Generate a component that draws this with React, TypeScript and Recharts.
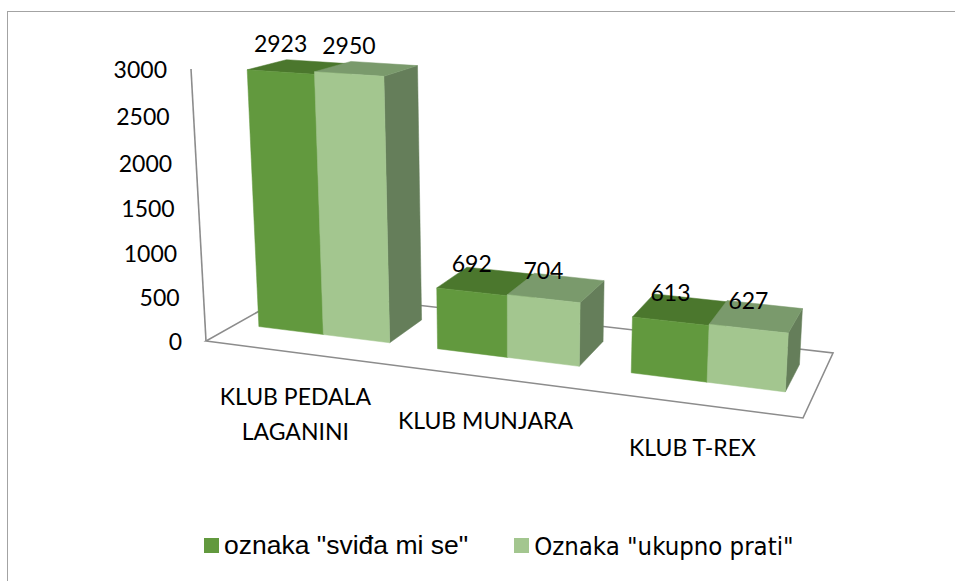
import React from "react";
import { BarChart, Bar, XAxis, YAxis, LabelList, Customized } from "recharts";

const categories = ["KLUB PEDALA LAGANINI", "KLUB MUNJARA", "KLUB T-REX"];
const svidaMiSe = [2923, 692, 613];
const ukupnoPrati = [2950, 704, 627];
const yTicks = [0, 500, 1000, 1500, 2000, 2500, 3000];
const seriesNames = ['oznaka "sviđa mi se"', 'Oznaka "ukupno prati"'];

const data = categories.map((name, i) => ({
  name,
  svida: svidaMiSe[i],
  prati: ukupnoPrati[i],
}));

const W = 955;
const H = 581;
const MARGIN = { top: 100, right: 255, bottom: 151, left: 40 };
const Y_AXIS_W = 60;
const X_AXIS_H = 30;
// flat plot area that recharts lays out, we project it afterwards
const PL = MARGIN.left + Y_AXIS_W;
const PT = MARGIN.top;
const PW = W - PL - MARGIN.right;
const PH = H - PT - MARGIN.bottom - X_AXIS_H;
const Y_MAX = 3000;

const FONT = "Lato, 'Open Sans', sans-serif";
const GREEN = { front: "#62993E", top: "#4B772D", side: "#557F38" };
const LIGHT = { front: "#A3C68F", top: "#7A9A6C", side: "#657E5A" };

// u = position across the floor, k = value / max, v = depth (0 front, 1 back)
const HX = [500.8, 123.3, 206, -23.98];
const HY = [26.92, -16.16, 341, -275.24];
const HW = [-0.1198, 0.1163, 1, -0.047];
const V_FRONT = 0.32;
const V_BACK = 0.75;

function project(u: number, k: number, v: number): [number, number] {
  const x = HX[0] * u + HX[1] * v + HX[2] + HX[3] * k;
  const y = HY[0] * u + HY[1] * v + HY[2] + HY[3] * k;
  const w = HW[0] * u + HW[1] * v + HW[2] + HW[3] * k;
  return [x / w, y / w];
}

const pt = (u: number, k: number, v: number) => project(u, k, v).join(",");

const makeBox = (c: { front: string; top: string; side: string }) => (props: any) => {
  const { x, width, height } = props;
  if (x == null || !height) return <g />;
  const u0 = (x - PL) / PW;
  const u1 = (x + width - PL) / PW;
  const k = height / PH;
  const side = [pt(u1, 0, V_FRONT), pt(u1, 0, V_BACK), pt(u1, k, V_BACK), pt(u1, k, V_FRONT)];
  const top = [pt(u0, k, V_FRONT), pt(u1, k, V_FRONT), pt(u1, k, V_BACK), pt(u0, k, V_BACK)];
  const front = [pt(u0, 0, V_FRONT), pt(u1, 0, V_FRONT), pt(u1, k, V_FRONT), pt(u0, k, V_FRONT)];
  return (
    <g>
      <polygon points={side.join(" ")} fill={c.side} stroke={c.side} strokeWidth={0.5} />
      <polygon points={top.join(" ")} fill={c.top} stroke={c.top} strokeWidth={0.5} />
      <polygon points={front.join(" ")} fill={c.front} stroke={c.front} strokeWidth={0.5} />
    </g>
  );
};

const renderValue = (props: any) => {
  const vb = props.viewBox && props.viewBox.width != null ? props.viewBox : props;
  const { x, width, height } = vb;
  if (x == null) return null;
  const u = (x + width / 2 - PL) / PW;
  const k = height / PH;
  const [sx, sy] = project(u, k, V_FRONT);
  return (
    <text x={sx} y={sy - 29} textAnchor="middle" dominantBaseline="central" fontFamily={FONT} fontSize={23} fill="#000">
      {props.value}
    </text>
  );
};

const ValueTick = (props: any) => {
  const { payload } = props;
  const [sx, sy] = project(0, payload.value / Y_MAX, 0);
  return (
    <text x={sx - 24} y={sy} textAnchor="end" dominantBaseline="central" fontFamily={FONT} fontSize={23} fill="#000">
      {payload.value}
    </text>
  );
};

function wrap(s: string, max: number) {
  const out: string[] = [];
  let line = "";
  s.split(" ").forEach((w) => {
    if (line && (line + " " + w).length > max) {
      out.push(line);
      line = w;
    } else line = line ? line + " " + w : w;
  });
  if (line) out.push(line);
  return out;
}

const CategoryTick = (props: any) => {
  const { x, payload } = props;
  const u = (x - PL) / PW;
  const [sx, sy] = project(u, 0, 0);
  const lines = wrap(String(payload.value), 13);
  return (
    <g>
      {lines.map((l, i) => (
        <text key={i} x={sx} y={sy + 43 + i * 35} textAnchor="middle" dominantBaseline="central" fontFamily={FONT} fontSize={23} fill="#000">
          {l}
        </text>
      ))}
    </g>
  );
};

const FloorLines = () => {
  const floor = [pt(0, 0, 0), pt(1, 0, 0), pt(1, 0, 1), pt(0, 0, 1)];
  const [ax, ay] = project(0, 0, 0);
  const [bx, by] = project(0, 1, 0);
  return (
    <g>
      <polygon points={floor.join(" ")} fill="none" stroke="#8C8C8C" strokeWidth={1.6} />
      <line x1={ax} y1={ay} x2={bx} y2={by} stroke="#8C8C8C" strokeWidth={1.6} />
    </g>
  );
};

export default function App() {
  return (
    <div style={{ position: "absolute", left: 0, top: 0, width: W, height: H, background: "#fff", overflow: "hidden" }}>
      <div
        style={{
          position: "absolute",
          left: 7,
          top: 11,
          width: 1000,
          height: 1000,
          borderLeft: "1.5px solid #A3A3A3",
          borderTop: "1.5px solid #A3A3A3",
        }}
      />
      <div style={{ position: "absolute", left: 0, top: 0 }}>
        <BarChart width={W} height={H} data={data} margin={MARGIN} barCategoryGap="13%" barGap={0}>
          <Customized component={FloorLines} />
          <XAxis dataKey="name" height={X_AXIS_H} axisLine={false} tickLine={false} tick={<CategoryTick />} interval={0} />
          <YAxis width={Y_AXIS_W} domain={[0, Y_MAX]} ticks={yTicks} axisLine={false} tickLine={false} tick={<ValueTick />} />
          <Bar dataKey="svida" name={seriesNames[0]} fill={GREEN.front} shape={makeBox(GREEN)} isAnimationActive={false}>
            <LabelList dataKey="svida" content={renderValue} />
          </Bar>
          <Bar dataKey="prati" name={seriesNames[1]} fill={LIGHT.front} shape={makeBox(LIGHT)} isAnimationActive={false}>
            <LabelList dataKey="prati" content={renderValue} />
          </Bar>
        </BarChart>
      </div>
      <div style={{ position: "absolute", left: 204, top: 530, display: "flex", alignItems: "center", fontSize: 26, color: "#000" }}>
        <span style={{ width: 15, height: 15, background: GREEN.front, display: "inline-block", marginRight: 5 }} />
        <span style={{ fontFamily: "'Liberation Sans', Arial, sans-serif", fontSize: 26.5 }}>{seriesNames[0]}</span>
        <span style={{ width: 15, height: 15, background: LIGHT.front, display: "inline-block", marginLeft: 46, marginRight: 5 }} />
        <span style={{ fontFamily: "'DejaVu Sans Condensed', 'DejaVu Sans', sans-serif", fontStretch: "condensed", fontSize: 25.5 }}>
          {seriesNames[1]}
        </span>
      </div>
    </div>
  );
}
